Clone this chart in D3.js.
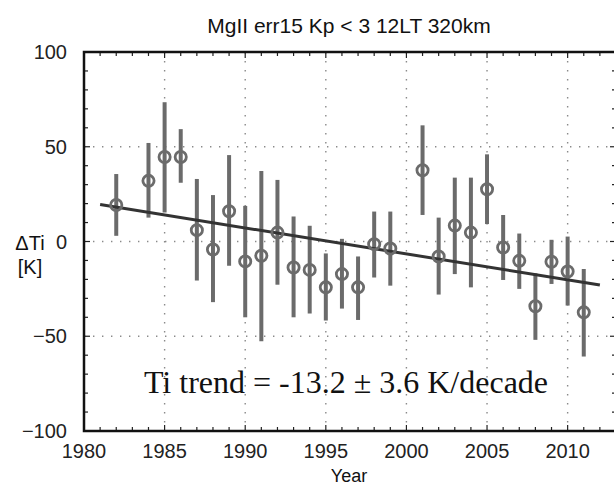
<!DOCTYPE html>
<html>
<head>
<meta charset="utf-8">
<script src="https://cdn.jsdelivr.net/npm/d3@7"></script>
<style>
  body { margin: 0; background: #fff; }
  svg { display: block; }
</style>
</head>
<body>
<svg id="chart"></svg>
<script>
// yearly mean values and error bar ends
const years = [1982, 1984, 1985, 1986, 1987, 1988, 1989, 1990, 1991, 1992, 1993, 1994, 1995, 1996, 1997, 1998, 1999, 2001, 2002, 2003, 2004, 2005, 2006, 2007, 2008, 2009, 2010, 2011];
const values = [19.3, 32, 44.6, 44.6, 6, -4.2, 16, -10.5, -7.5, 4.7, -13.7, -15, -24.2, -17.2, -24.2, -1.4, -3.7, 37.6, -7.9, 8.4, 4.7, 27.6, -3.2, -10.2, -34.2, -10.7, -15.8, -37.4];
const errHigh = [35.6, 52, 73.5, 59.3, 33, 24.5, 45.6, 18.8, 37.2, 32.5, 13.2, 8.3, -6.3, 1.4, -7.9, 15.8, 15.8, 61.3, 12.6, 33.7, 33.7, 46, 14, 4.2, -16.8, 0.9, 2.6, -14.5];
const errLow = [3, 12.6, 15.3, 31, -20.6, -32, -12.8, -40, -52.6, -22.8, -40, -38, -41.7, -35.4, -41.4, -19, -23.3, 14, -28, -17.2, -24.2, 9.2, -20.3, -25, -51.9, -22.4, -33.8, -60.7];

const trendYears = [1981, 2012];
const trendValues = [19.5, -23];

const xTicks = [1980, 1985, 1990, 1995, 2000, 2005, 2010];
const yTicks = [-100, -50, 0, 50, 100];

const width = 614;
const height = 485;
const margin = { top: 52, right: -2, bottom: 54, left: 84 };
const sans = "'Liberation Sans', Arial, sans-serif";

const svg = d3.select("#chart").attr("width", width).attr("height", height);

const x = d3.scaleLinear().domain([1980, 2013]).range([margin.left, width - margin.right]);
const y = d3.scaleLinear().domain([-100, 100]).range([height - margin.bottom, margin.top]);

const x0 = x.range()[0], x1 = x.range()[1];
const y0 = y.range()[0], y1 = y.range()[1];

// dotted grid
const grid = svg.append("g").attr("stroke", "#8a8a8a").attr("stroke-width", 1.4).attr("stroke-dasharray", "1.4,7.6");
grid.selectAll("line.vx")
  .data(xTicks.slice(1))
  .enter()
  .append("line")
  .attr("x1", d => x(d)).attr("x2", d => x(d))
  .attr("y1", y1).attr("y2", y0);
grid.selectAll("line.hy")
  .data(yTicks.slice(1, -1))
  .enter()
  .append("line")
  .attr("x1", x0).attr("x2", x1)
  .attr("y1", d => y(d)).attr("y2", d => y(d));

// minor / major ticks pointing inward
const yearTicks = d3.range(1981, 2013);
const valTicks = d3.range(-90, 100, 10);
const tickG = svg.append("g").attr("stroke", "#222").attr("stroke-width", 1.2);
tickG.selectAll("line.tb")
  .data(yearTicks)
  .enter()
  .append("line")
  .attr("x1", d => x(d)).attr("x2", d => x(d))
  .attr("y1", y0).attr("y2", d => y0 - (d % 5 === 0 ? 6 : 4));
tickG.selectAll("line.tt")
  .data(yearTicks)
  .enter()
  .append("line")
  .attr("x1", d => x(d)).attr("x2", d => x(d))
  .attr("y1", y1).attr("y2", d => y1 + (d % 5 === 0 ? 6 : 4));
tickG.selectAll("line.tl")
  .data(valTicks)
  .enter()
  .append("line")
  .attr("x1", x0).attr("x2", d => x0 + (d % 50 === 0 ? 6 : 4))
  .attr("y1", d => y(d)).attr("y2", d => y(d));
tickG.selectAll("line.tr")
  .data(valTicks)
  .enter()
  .append("line")
  .attr("x1", x1).attr("x2", d => x1 - (d % 50 === 0 ? 6 : 4))
  .attr("y1", d => y(d)).attr("y2", d => y(d));

// frame
svg.append("rect")
  .attr("x", x0).attr("y", y1)
  .attr("width", x1 - x0).attr("height", y0 - y1)
  .attr("fill", "none")
  .attr("stroke", "#111")
  .attr("stroke-width", 2.5);

// tick labels
svg.append("g")
  .selectAll("text")
  .data(xTicks)
  .enter()
  .append("text")
  .attr("x", d => x(d))
  .attr("y", y0 + 27)
  .attr("text-anchor", "middle")
  .attr("font-family", sans)
  .attr("font-size", "20px")
  .attr("fill", "#222")
  .text(d => d);

svg.append("g")
  .selectAll("text")
  .data(yTicks)
  .enter()
  .append("text")
  .attr("x", x0 - 17)
  .attr("y", d => y(d) + 7)
  .attr("text-anchor", "end")
  .attr("font-family", sans)
  .attr("font-size", "20px")
  .attr("fill", "#222")
  .text(d => (d < 0 ? "\u2212" + Math.abs(d) : d));

// error bars
const points = years.map((d, i) => ({ year: d, v: values[i], hi: errHigh[i], lo: errLow[i] }));
svg.append("g")
  .selectAll("line")
  .data(points)
  .enter()
  .append("line")
  .attr("x1", d => x(d.year)).attr("x2", d => x(d.year))
  .attr("y1", d => y(d.hi)).attr("y2", d => y(d.lo))
  .attr("stroke", "#6b6b6b")
  .attr("stroke-width", 4);

// trend line
const trend = trendYears.map((d, i) => [d, trendValues[i]]);
svg.append("path")
  .datum(trend)
  .attr("d", d3.line().x(d => x(d[0])).y(d => y(d[1])))
  .attr("stroke", "#333")
  .attr("stroke-width", 3)
  .attr("fill", "none");

// markers
svg.append("g")
  .selectAll("circle")
  .data(points)
  .enter()
  .append("circle")
  .attr("cx", d => x(d.year))
  .attr("cy", d => y(d.v))
  .attr("r", 5.6)
  .attr("fill", "none")
  .attr("stroke", "#6b6b6b")
  .attr("stroke-width", 2.8);

// titles
svg.append("text")
  .attr("x", 349).attr("y", 33)
  .attr("text-anchor", "middle")
  .attr("font-family", sans)
  .attr("font-size", "21px")
  .attr("fill", "#111")
  .text("MgII err15 Kp < 3 12LT 320km");

svg.append("text")
  .attr("x", 349).attr("y", 482)
  .attr("text-anchor", "middle")
  .attr("font-family", sans)
  .attr("font-size", "18px")
  .attr("fill", "#111")
  .text("Year");

svg.append("text")
  .attr("x", 30).attr("y", 250)
  .attr("text-anchor", "middle")
  .attr("font-family", sans)
  .attr("font-size", "20px")
  .attr("fill", "#111")
  .text("\u0394Ti");

svg.append("text")
  .attr("x", 30).attr("y", 274)
  .attr("text-anchor", "middle")
  .attr("font-family", sans)
  .attr("font-size", "20px")
  .attr("fill", "#111")
  .text("[K]");

// annotation
svg.append("text")
  .attr("x", 346).attr("y", 393)
  .attr("text-anchor", "middle")
  .attr("font-family", "'Liberation Serif', 'Times New Roman', serif")
  .attr("font-size", "32px")
  .attr("fill", "#111")
  .text("Ti trend = -13.2 \u00b1 3.6 K/decade");
</script>
</body>
</html>
